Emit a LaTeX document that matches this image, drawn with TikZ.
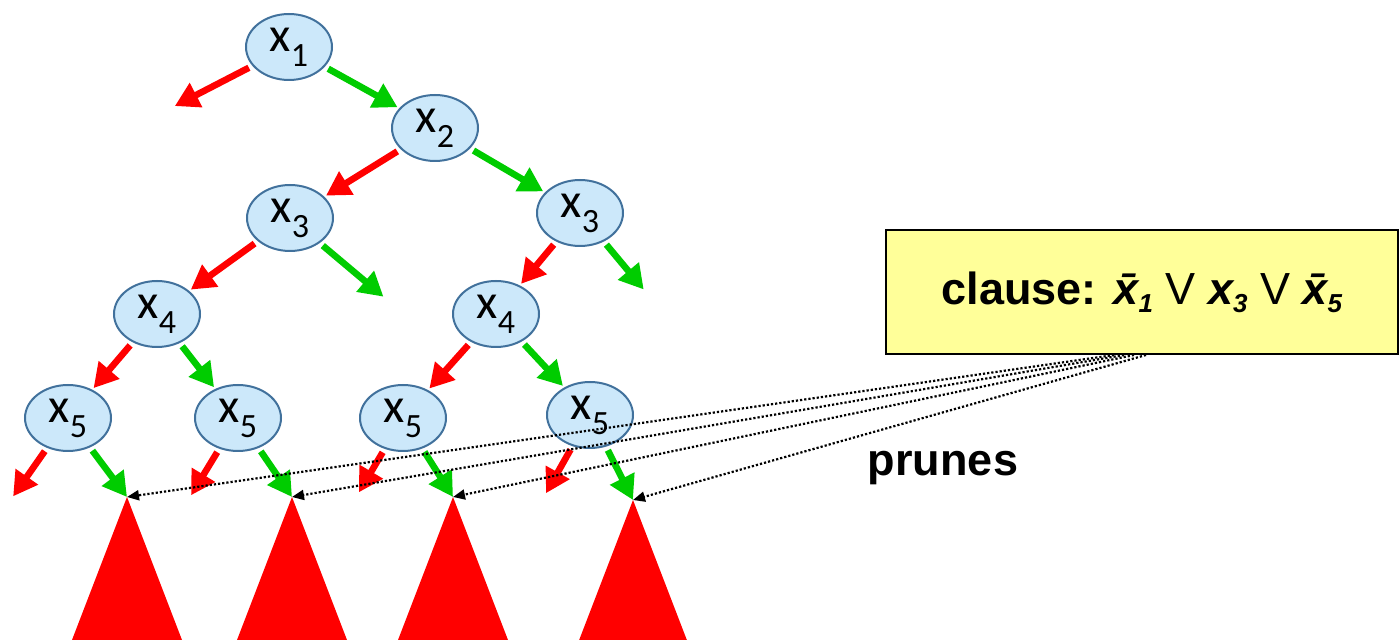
\documentclass[tikz,border=0pt]{standalone}
\usepackage{fontspec}
\setmainfont{Liberation Sans}
\newfontfamily\calfont{Carlito}
\usetikzlibrary{arrows.meta,shapes.geometric}
\definecolor{varfill}{HTML}{CCE8FA}
\definecolor{varedge}{HTML}{41719C}
\definecolor{lored}{HTML}{FF0000}
\definecolor{higreen}{HTML}{00CC00}
\definecolor{notepad}{HTML}{FFFF99}
\newcommand{\xv}[1]{x\raisebox{-7.5pt}{\fontsize{17}{17}\selectfont #1}}
\newcommand{\litpos}[1]{{\bfseries\itshape x\raisebox{-4pt}{\fontsize{13}{14}\selectfont #1}}}
\newcommand{\litneg}[1]{{\bfseries\itshape \={x}\raisebox{-4pt}{\fontsize{13}{14}\selectfont #1}}}
\newcommand{\orv}{{\mdseries\upshape V}}
\tikzset{
  var/.style={ellipse,draw=varedge,fill=varfill,line width=1pt,minimum width=43pt,minimum height=33pt,inner sep=0pt,font=\calfont\fontsize{24.5}{26}\selectfont},
  lo/.style={-{Triangle[length=12pt,width=13pt]},line width=3.3pt,draw=lored,shorten <=2pt,shorten >=1pt},
  hi/.style={lo,draw=higreen},
  prune/.style={-{Triangle[length=6pt,width=5pt]},line width=1.1pt,densely dotted},
  subtree/.style={fill=lored},
  note/.style={draw=black,fill=notepad,line width=1pt,minimum width=256pt,minimum height=62pt,font=\bfseries\fontsize{22.5}{26}\selectfont},
  tag/.style={font=\bfseries\fontsize{22.5}{26}\selectfont},
}
\begin{document}
\begin{tikzpicture}[x=0.5pt,y=-0.5pt]
  \useasboundingbox (0,0) rectangle (1399,640);
  \node[var] (x1) at (289,47) {\xv1};
  \node[var] (x2) at (435,128) {\xv2};
  \node[var] (x3l) at (290,218) {\xv3};
  \node[var] (x3r) at (580,213) {\xv3};
  \node[var] (x4l) at (157,314) {\xv4};
  \node[var] (x4r) at (496,314) {\xv4};
  \node[var] (x5a) at (68,418) {\xv5};
  \node[var] (x5b) at (238,418) {\xv5};
  \node[var] (x5c) at (403,418) {\xv5};
  \node[var] (x5d) at (590,415) {\xv5};
  % loose branch ends
  \coordinate (x1lo) at (173,107);
  \coordinate (x3lhi) at (385,298);
  \coordinate (x3rhi) at (645,291);
  \coordinate (x5alo) at (12,498);
  \coordinate (x5blo) at (190,497);
  \coordinate (x5clo) at (358,494);
  \coordinate (x5dlo) at (545,495);
  % pruned subtrees
  \foreach \t/\ax/\ay in {ta/127/497,tb/292/497,tc/453/497,td/633/500} {
    \coordinate (\t) at (\ax,\ay);
    \fill[subtree] (\t) -- ++(-55,143) -- ++(110,0) -- cycle;
  }
  \draw[lo] (x1) -- (x1lo);  \draw[hi] (x1) -- (x2);
  \draw[lo] (x2) -- (x3l);   \draw[hi] (x2) -- (x3r);
  \draw[lo] (x3l) -- (x4l);  \draw[hi] (x3l) -- (x3lhi);
  \draw[lo] (x3r) -- (x4r);  \draw[hi] (x3r) -- (x3rhi);
  \draw[lo] (x4l) -- (x5a);  \draw[hi] (x4l) -- (x5b);
  \draw[lo] (x4r) -- (x5c);  \draw[hi] (x4r) -- (x5d);
  \draw[lo] (x5a) -- (x5alo); \draw[hi,shorten >=0pt] (x5a) -- (ta);
  \draw[lo] (x5b) -- (x5blo); \draw[hi,shorten >=0pt] (x5b) -- (tb);
  \draw[lo] (x5c) -- (x5clo); \draw[hi,shorten >=0pt] (x5c) -- (tc);
  \draw[lo] (x5d) -- (x5dlo); \draw[hi,shorten >=0pt] (x5d) -- (td);
  \node[note] (clause) at (1142,292) {clause: \litneg1 \orv{} \litpos3 \orv{} \litneg5};
  \node[tag] (prunes) at (943,468) {prunes};
  \foreach \t/\dx in {ta/-14,tb/-9,tc/-4,td/2}
    \draw[prune] ([xshift=\dx pt]clause.south) -- (\t);
\end{tikzpicture}
\end{document}
